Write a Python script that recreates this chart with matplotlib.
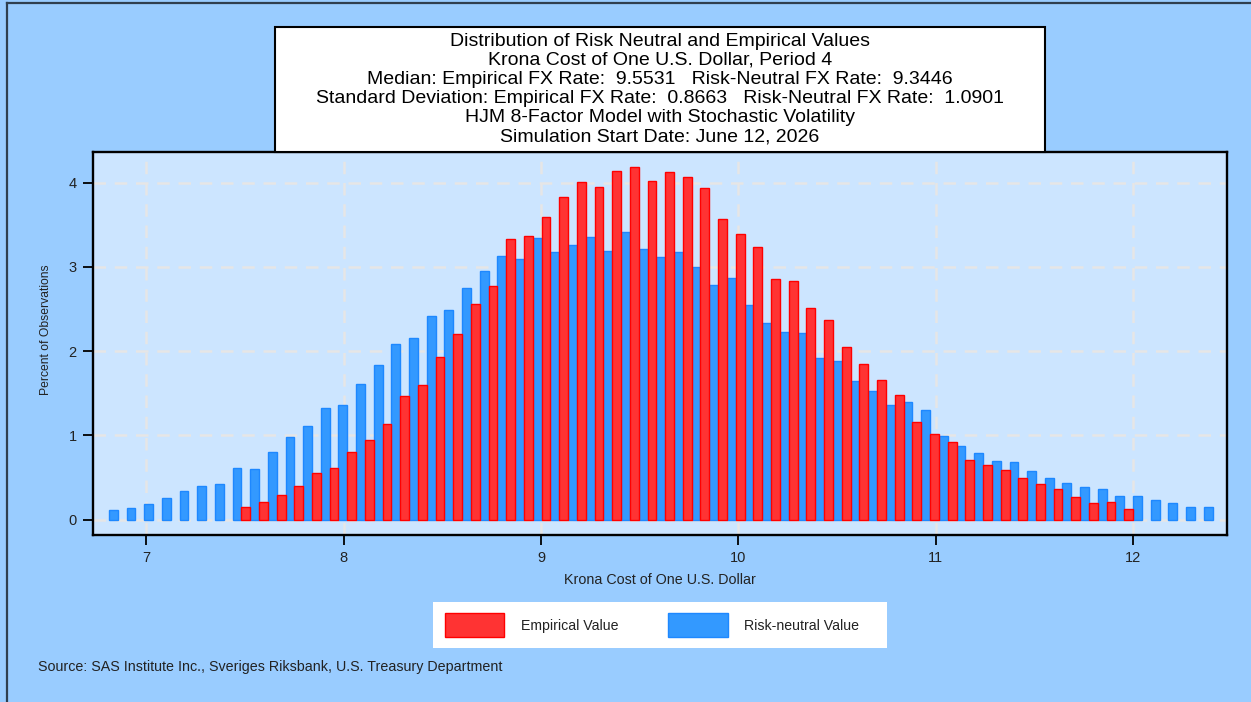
import numpy as np
import matplotlib.pyplot as plt
from matplotlib.patches import Rectangle
from matplotlib.lines import Line2D

plt.rcParams['font.family'] = ['Liberation Sans', 'DejaVu Sans']

# histogram bins (midpoints), 63 bins
bin_start = 6.855
bin_width = 0.0895
n_bins = 63

# percent of observations, risk-neutral (all bins)
risk_neutral = [0.11, 0.14, 0.19, 0.25, 0.34, 0.40, 0.42, 0.615, 0.60, 0.80,
                0.98, 1.11, 1.33, 1.36, 1.605, 1.835, 2.084, 2.152, 2.413, 2.488,
                2.745, 2.955, 3.125, 3.098, 3.343, 3.173, 3.264, 3.351, 3.189, 3.41,
                3.213, 3.122, 3.173, 2.999, 2.789, 2.872, 2.548, 2.334, 2.231, 2.215,
                1.922, 1.878, 1.645, 1.522, 1.356, 1.395, 1.304, 0.986, 0.873, 0.79,
                0.699, 0.687, 0.576, 0.493, 0.43, 0.386, 0.358, 0.279, 0.279, 0.232,
                0.20, 0.152, 0.152]

# percent of observations, empirical (bins 7..57)
emp_first_bin = 7
empirical = [0.148, 0.21, 0.29, 0.40, 0.55, 0.61, 0.80, 0.94, 1.14, 1.467,
             1.597, 1.926, 2.207, 2.559, 2.777, 3.335, 3.367, 3.589, 3.826, 4.004,
             3.953, 4.143, 4.182, 4.02, 4.123, 4.068, 3.937, 3.565, 3.395, 3.240,
             2.852, 2.829, 2.508, 2.369, 2.053, 1.847, 1.653, 1.483, 1.162, 1.011,
             0.918, 0.707, 0.643, 0.588, 0.493, 0.418, 0.366, 0.271, 0.192, 0.208,
             0.129]

x_ticks = [7, 8, 9, 10, 11, 12]
y_ticks = [0, 1, 2, 3, 4]

title_lines = [
    "Distribution of Risk Neutral and Empirical Values",
    "Krona Cost of One U.S. Dollar, Period 4",
    "Median: Empirical FX Rate:  9.5531   Risk-Neutral FX Rate:  9.3446",
    "Standard Deviation: Empirical FX Rate:  0.8663   Risk-Neutral FX Rate:  1.0901",
    "HJM 8-Factor Model with Stochastic Volatility",
    "Simulation Start Date: June 12, 2026",
]

bg = '#99CCFF'
plot_bg = '#CCE5FF'
red_fill, red_edge = '#FF3333', '#FF0000'
blue_fill, blue_edge = '#3399FF', '#1E88FF'

W, H = 1251, 702
fig = plt.figure(figsize=(W / 100, H / 100), dpi=100, facecolor=bg)

def fx(px):
    return px / W

def fy(py):
    return 1 - py / H

ax = fig.add_axes([fx(93.3), fy(534.5), fx(1227) - fx(93.3), fy(152) - fy(534.5)])
ax.set_facecolor(plot_bg)

mids = bin_start + bin_width * np.arange(n_bins)
half = bin_width / 2
ax.bar(mids - half / 2, risk_neutral, width=half, color=blue_fill,
       edgecolor=blue_edge, linewidth=1, zorder=3)
emp_mids = mids[emp_first_bin:emp_first_bin + len(empirical)]
ax.bar(emp_mids + half / 2, empirical, width=half, color=red_fill,
       edgecolor=red_edge, linewidth=1, zorder=3)

ax.set_xlim(6.731, 12.477)
ax.set_ylim(-0.178, 4.365)
ax.set_xticks(x_ticks)
ax.set_yticks(y_ticks)
ax.grid(True, color='#E6E6E6', linestyle=(0, (5, 3.5)), linewidth=1.8, zorder=1)
ax.set_axisbelow(True)
for s in ax.spines.values():
    s.set_linewidth(1.7)
    s.set_color('black')
ax.tick_params(axis='x', length=7, width=1.3, labelsize=10.5, pad=5, colors='black')
ax.tick_params(axis='y', length=7, width=1.3, labelsize=10.5, pad=5, colors='black')
for lab in ax.get_xticklabels() + ax.get_yticklabels():
    lab.set_color('#222222')
ax.set_xlabel('Krona Cost of One U.S. Dollar', fontsize=10.3, color='#222222', labelpad=6)
ax.set_ylabel('Percent of Observations', fontsize=8.7, color='#222222')
ax.yaxis.set_label_coords(-0.0367, 0.535)

# title box
fig.patches.append(Rectangle((fx(275), fy(152)), fx(1045) - fx(275), fy(27) - fy(152),
                             transform=fig.transFigure, facecolor='white',
                             edgecolor='black', linewidth=1.5, zorder=5))
for i, line in enumerate(title_lines):
    fig.text(fx(660), fy(41 + 19.2 * i), line, ha='center', va='center',
             fontsize=14, color='black', zorder=6)

# legend box
fig.patches.append(Rectangle((fx(433), fy(648)), fx(887) - fx(433), fy(602) - fy(648),
                             transform=fig.transFigure, facecolor='white',
                             edgecolor='none', zorder=5))
fig.patches.append(Rectangle((fx(445), fy(636.5)), fx(59), fy(612.5) - fy(636.5),
                             transform=fig.transFigure, facecolor=red_fill,
                             edgecolor=red_edge, linewidth=1, zorder=6))
fig.patches.append(Rectangle((fx(668), fy(636.5)), fx(60), fy(612.5) - fy(636.5),
                             transform=fig.transFigure, facecolor=blue_fill,
                             edgecolor=blue_edge, linewidth=1, zorder=6))
fig.text(fx(521), fy(626), 'Empirical Value', ha='left', va='center',
         fontsize=10.2, color='#222222', zorder=7)
fig.text(fx(744), fy(626), 'Risk-neutral Value', ha='left', va='center',
         fontsize=10.2, color='#222222', zorder=7)

fig.text(fx(37.5), fy(667), 'Source: SAS Institute Inc., Sveriges Riksbank, U.S. Treasury Department',
         ha='left', va='center', fontsize=10.3, color='#222222')

# outer frame lines (left and top)
fig.lines.append(Line2D([fx(6.5), fx(6.5)], [0, fy(3)], transform=fig.transFigure,
                        color='#2F3F4F', linewidth=1.6))
fig.lines.append(Line2D([fx(6.5), 1], [fy(3), fy(3)], transform=fig.transFigure,
                        color='#2F3F4F', linewidth=1.6))

fig.savefig('out.png', dpi=100, facecolor=bg)
